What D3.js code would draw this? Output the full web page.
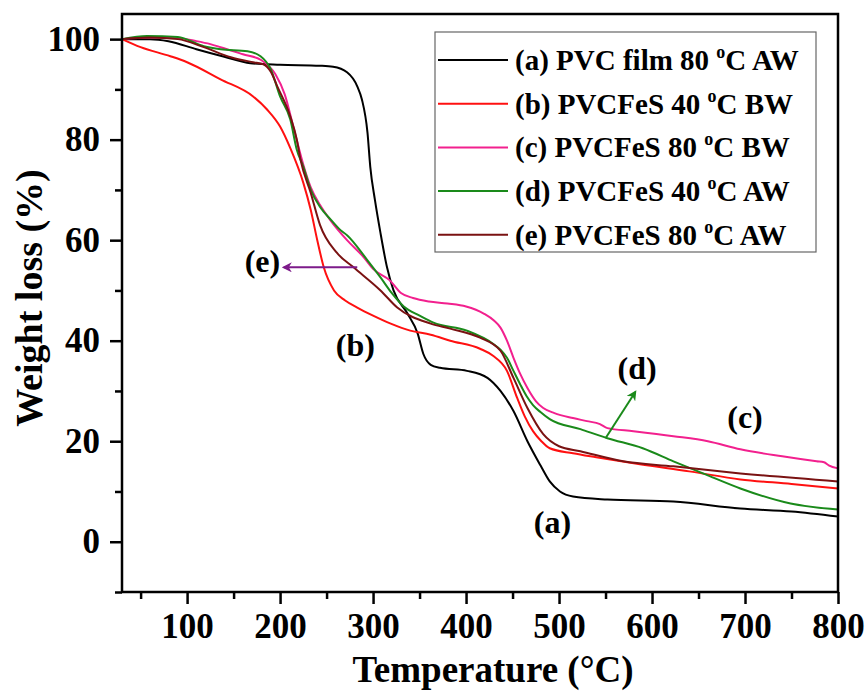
<!DOCTYPE html>
<html>
<head>
<meta charset="utf-8">
<script src="https://cdn.jsdelivr.net/npm/d3@7"></script>
<style>
  body { margin: 0; background: #fff; }
  svg { display: block; font-family: "Liberation Serif", "Times New Roman", serif; font-weight: bold; }
</style>
</head>
<body>
<script>
// TGA curves: [temperature (°C), weight (%)]
var pvcFilm80AW = [[30,100],[60,100],[80,99.6],[110,98],[140,96.5],[168,95.2],[200,94.9],[243,94.7],[257,94.5],[272,93.4],[283,90.6],[288,88],[294,81.4],[297,74.6],[302,68],[308,61.4],[315,54.6],[322,50],[337,45.4],[348,41.4],[354,37.4],[362,35.2],[372,34.6],[401,34],[423,32.6],[437,30],[451,26],[466,20],[480,15.2],[490,12],[501,10],[515,9],[552,8.4],[623,8],[695,6.6],[750,6],[800,5]];
var pvcfes40BW = [[30,100],[50,98.4],[82,96.6],[100,95.4],[136,92],[171,88.6],[186,86],[200,82.6],[211,78.3],[225,71.4],[233,66],[240,60],[247,54.6],[258,50],[270,48],[283,46.6],[300,45],[319,43.4],[340,42],[362,41.2],[383,40],[415,38.4],[429,37],[444,34],[455,28.6],[463,25],[472,22],[481,20],[490,18.6],[515,17.6],[540,16.8],[587,15.4],[640,14],[695,12.4],[750,11.5],[800,10.6]];
var pvcfes80BW = [[30,100],[60,100.3],[90,100.2],[110,99.6],[125,99],[136,98.4],[160,97],[180,95.8],[195,93],[205,89],[215,82],[225,75],[233,70.5],[243,67],[254,64],[272,60],[290,56.6],[300,54.3],[318,52],[330,49.5],[343,48.5],[360,47.8],[380,47.4],[400,46.8],[419,45.4],[430,44],[437,42.6],[444,40],[451,36.6],[458,33.5],[466,30.6],[475,28],[483,26.6],[495,25.6],[515,24.6],[530,24],[544,23.4],[552,22.6],[580,22],[623,21],[660,20],[695,18.4],[740,17],[777,16],[785,15.8],[790,15.2],[800,14.6]];
var pvcfes40AW = [[30,100],[57,100.6],[90,100.4],[118,98.6],[136,98],[165,97.6],[179,96.6],[190,94],[200,88.6],[211,84],[218,78],[225,74.6],[233,70],[243,66.6],[255,64],[265,62],[272,61],[294,56],[308,52.6],[320,49.5],[333,46.8],[350,45],[365,43.6],[401,42],[429,39.4],[437,38.2],[444,36.6],[451,34],[458,31.4],[465,29],[472,27.2],[480,25.8],[490,24.4],[523,22.4],[552,20.6],[590,18.6],[623,16],[660,13.2],[695,10.6],[749,7.6],[800,6.4]];
var pvcfes80AW = [[30,100],[60,100.3],[90,100],[118,98.4],[147,96.4],[171,95.4],[182,95],[190,93.5],[197,90.6],[211,84.6],[218,80],[222,76],[233,69.4],[243,63],[261,57.5],[279,54.6],[308,50],[326,46.6],[362,43.4],[383,42.4],[415,40.6],[437,38],[451,32.6],[466,26.6],[483,21.4],[500,19],[523,18],[569,16],[623,15],[695,13.6],[800,12]];

var seriesNames = ["(a) PVC film 80 |C AW", "(b) PVCFeS 40 |C BW", "(c) PVCFeS 80 |C BW", "(d) PVCFeS 40 |C AW", "(e) PVCFeS 80 |C AW"];
var seriesData = [pvcFilm80AW, pvcfes40BW, pvcfes80BW, pvcfes40AW, pvcfes80AW];
var seriesColors = ["#000000", "#ff1010", "#f2208e", "#1a8a1a", "#7a1212"];

var xMajor = [100, 200, 300, 400, 500, 600, 700, 800];
var xMinor = [50, 150, 250, 350, 450, 550, 650, 750];
var yMajor = [0, 20, 40, 60, 80, 100];
var yMinor = [-10, 10, 30, 50, 70, 90];

// curve labels: text, temperature, weight
var curveLabels = [["(a)", 493, 1.8], ["(b)", 281, 37], ["(c)", 700, 22.6], ["(d)", 584, 32.4], ["(e)", 181, 53.6]];
// arrows: from [T,W] to [T,W], colour
var arrows = [[[283, 54.6], [204, 54.6], "#7d1b8a"], [[550, 20.6], [582, 29.8], "#1a8a1a"]];

window.onload = drawChart();
function drawChart(){
  var width = 868, height = 694;
  var margin = {left: 122, top: 14, right: 30, bottom: 102};

  var svg = d3.select("body").append("svg")
      .attr("width", width)
      .attr("height", height);

  var x = d3.scaleLinear().domain([30, 800]).range([margin.left, width - margin.right]);
  var y = d3.scaleLinear().domain([-10, 105]).range([height - margin.bottom, margin.top]);

  var defs = svg.append("defs");
  arrows.forEach(function(a, i){
    defs.append("marker")
        .attr("id", "head" + i)
        .attr("viewBox", "0 0 10 10")
        .attr("refX", 8).attr("refY", 5)
        .attr("markerWidth", 5).attr("markerHeight", 5)
        .attr("markerUnits", "strokeWidth")
        .attr("orient", "auto")
      .append("path")
        .attr("d", "M0,0 L10,5 L0,10 L3,5 Z")
        .attr("fill", a[2]);
  });

  // curves
  var line = d3.line()
      .x(function(d){ return x(d[0]); })
      .y(function(d){ return y(d[1]); })
      .curve(d3.curveMonotoneX);

  svg.selectAll(".curve")
      .data(seriesData)
      .enter()
      .append("path")
      .attr("class", "curve")
      .attr("d", line)
      .attr("fill", "none")
      .attr("stroke", function(d, i){ return seriesColors[i]; })
      .attr("stroke-width", 2);

  // frame
  svg.append("rect")
      .attr("x", x(30)).attr("y", y(105))
      .attr("width", x(800) - x(30))
      .attr("height", y(-10) - y(105))
      .attr("fill", "none")
      .attr("stroke", "#000")
      .attr("stroke-width", 2.5);

  // axes
  var gx = svg.append("g").attr("transform", "translate(0," + y(-10) + ")");
  gx.call(d3.axisBottom(x).tickValues(xMajor).tickSize(12).tickPadding(9).tickFormat(d3.format("d")));
  var gxm = svg.append("g").attr("transform", "translate(0," + y(-10) + ")");
  gxm.call(d3.axisBottom(x).tickValues(xMinor).tickSize(7).tickFormat(""));

  var gy = svg.append("g").attr("transform", "translate(" + x(30) + ",0)");
  gy.call(d3.axisLeft(y).tickValues(yMajor).tickSize(12).tickPadding(10).tickFormat(d3.format("d")));
  var gym = svg.append("g").attr("transform", "translate(" + x(30) + ",0)");
  gym.call(d3.axisLeft(y).tickValues(yMinor).tickSize(7).tickFormat(""));

  svg.selectAll(".domain").remove();
  svg.selectAll(".tick line").attr("stroke", "#000").attr("stroke-width", 2.5);
  svg.selectAll(".tick text")
      .attr("font-family", "Liberation Serif, Times New Roman, serif")
      .attr("font-weight", "bold")
      .attr("font-size", 35)
      .attr("fill", "#000");

  // axis titles
  svg.append("text")
      .attr("x", 493).attr("y", 682)
      .attr("text-anchor", "middle")
      .attr("font-size", 37)
      .text("Temperature (°C)");

  svg.append("text")
      .attr("transform", "translate(42,298) rotate(-90)")
      .attr("text-anchor", "middle")
      .attr("font-size", 38)
      .text("Weight loss (%)");

  // legend
  var legend = svg.append("g");
  legend.append("rect")
      .attr("x", 435).attr("y", 32)
      .attr("width", 381).attr("height", 220)
      .attr("fill", "#fff")
      .attr("stroke", "#666")
      .attr("stroke-width", 1.2);

  seriesNames.forEach(function(name, i){
    var ry = 60 + i * 43.7;
    legend.append("line")
        .attr("x1", 438).attr("x2", 508)
        .attr("y1", ry).attr("y2", ry)
        .attr("stroke", seriesColors[i])
        .attr("stroke-width", 2);
    var parts = name.split("|");
    var t = legend.append("text")
        .attr("x", 515).attr("y", ry + 10)
        .attr("font-size", 29);
    t.append("tspan").text(parts[0]);
    t.append("tspan").attr("dy", -12).attr("font-size", 18).text("o");
    t.append("tspan").attr("dy", 12).text(parts[1]);
  });

  // arrows
  arrows.forEach(function(a, i){
    svg.append("line")
        .attr("x1", x(a[0][0])).attr("y1", y(a[0][1]))
        .attr("x2", x(a[1][0])).attr("y2", y(a[1][1]))
        .attr("stroke", a[2])
        .attr("stroke-width", 2)
        .attr("marker-end", "url(#head" + i + ")");
  });

  // curve labels
  svg.selectAll(".clabel")
      .data(curveLabels)
      .enter()
      .append("text")
      .attr("class", "clabel")
      .attr("x", function(d){ return x(d[1]); })
      .attr("y", function(d){ return y(d[2]); })
      .attr("text-anchor", "middle")
      .attr("font-size", 32)
      .text(function(d){ return d[0]; });
};
</script>
</body>
</html>
